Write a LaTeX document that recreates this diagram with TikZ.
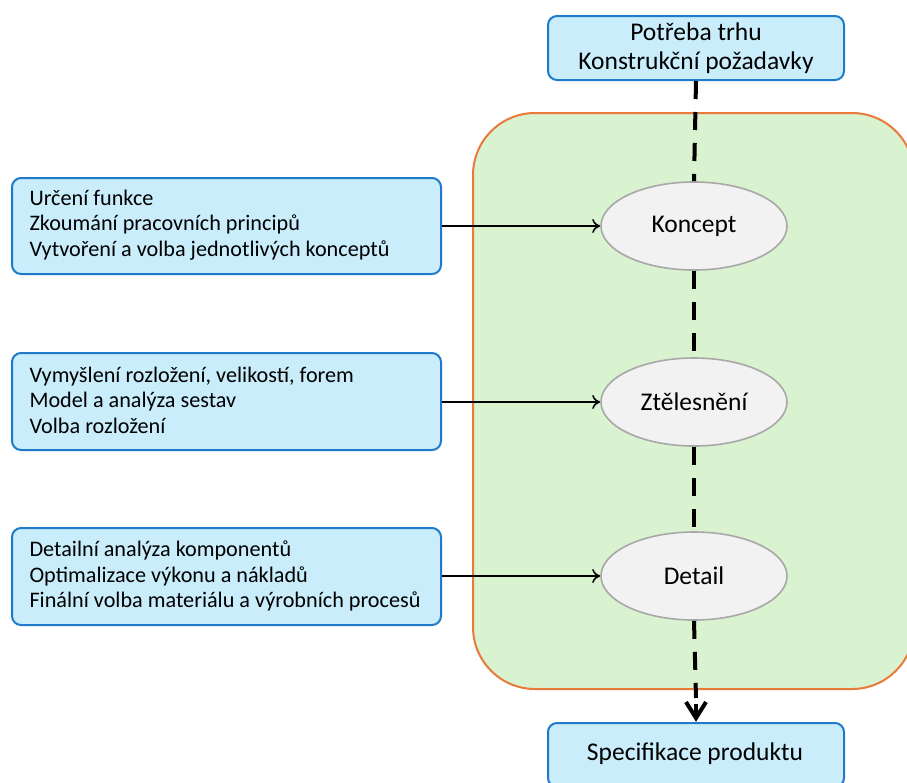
\documentclass[tikz,border=0pt]{standalone}
\usepackage{fontspec}
\setmainfont{Carlito}
\usetikzlibrary{shapes.geometric,arrows.meta}
\definecolor{boxfill}{HTML}{C9EDFB}
\definecolor{boxdraw}{HTML}{1F7BC9}
\definecolor{panelfill}{HTML}{D9F2D0}
\definecolor{paneldraw}{HTML}{E97A3A}
\definecolor{ellfill}{HTML}{F2F2F2}
\definecolor{elldraw}{HTML}{A8A8A8}
\tikzset{
  bluebox/.style={draw=boxdraw, fill=boxfill, line width=2pt, rounded corners=9pt, inner sep=0pt},
  ellnode/.style={ellipse, draw=elldraw, fill=ellfill, line width=1.6pt, minimum width=186pt, minimum height=88pt, inner sep=0pt, font=\fontsize{25.5}{30}\selectfont},
  bigtxt/.style={font=\fontsize{25.5}{28.5}\selectfont},
  txt/.style={font=\fontsize{22.2}{25.5}\selectfont},
  feed/.style={-{To[length=8pt,width=14pt,line width=1.5pt]}, line width=2pt},
  flow/.style={line width=4pt, dash pattern=on 18pt off 13pt}
}
\begin{document}
\begin{tikzpicture}[x=1pt,y=-1pt]
\useasboundingbox (0,0) rectangle (907,782);
\begin{scope}
\clip (0,0) rectangle (907,782);
% panel
\draw[draw=paneldraw, fill=panelfill, line width=2pt, rounded corners=62pt] (473,113) rectangle (914,689);
% top box
\node[bluebox, minimum width=296pt, minimum height=64pt, anchor=north west] (need) at (547,15) {};
\node[bigtxt, align=center] (needt) at (need.center) {Potřeba trhu\\Konstrukční požadavky};
% bottom box
\node[bluebox, minimum width=296pt, minimum height=64pt, anchor=north west] (spec) at (547,722) {};
\node[bigtxt] (spect) at (695,754) {Specifikace produktu};
% ellipses
\node[ellnode] (k) at (694,226) {Koncept};
\node[ellnode] (z) at (694,402) {Ztělesnění};
\node[ellnode] (d) at (694,576) {Detail};
% left boxes
\node[bluebox, minimum width=429pt, minimum height=96pt, anchor=north west] (b1) at (11,177) {};
\node[bluebox, minimum width=429pt, minimum height=97pt, anchor=north west] (b2) at (11,352) {};
\node[bluebox, minimum width=429pt, minimum height=97pt, anchor=north west] (b3) at (11,527) {};
\node[txt, align=left, anchor=west] (t1) at (26,225) {Určení funkce\\Zkoumání pracovních principů\\Vytvoření a volba jednotlivých konceptů};
\node[txt, align=left, anchor=west] (t2) at (26,400) {Vymyšlení rozložení, velikostí, forem\\Model a analýza sestav\\Volba rozložení};
\node[txt, align=left, anchor=west] (t3) at (26,576) {Detailní analýza komponentů\\Optimalizace výkonu a nákladů\\Finální volba materiálu a výrobních procesů};
% flow line
\draw[flow] (need.south) -- (k.north);
\draw[flow] (k.south) -- (z.north);
\draw[flow] (z.south) -- (d.north);
\coordinate (dashend) at ([yshift=24pt]spec.north);
\draw[flow] (d.south) -- (dashend);
\coordinate (tipl) at ([xshift=-10pt,yshift=20pt]spec.north);
\coordinate (tipr) at ([xshift=10pt,yshift=20pt]spec.north);
\coordinate (tip) at ([yshift=4pt]spec.north);
\coordinate (stem) at ([yshift=18pt]spec.north);
\draw[line width=4pt, line join=miter] (tipl) -- (tip) -- (tipr);
\draw[line width=4pt] (stem) -- (tip);
% feed arrows
\draw[feed] (b1.east |- k.west) -- (k.west);
\draw[feed] (b2.east |- z.west) -- (z.west);
\draw[feed] (b3.east |- d.west) -- (d.west);
\end{scope}
\end{tikzpicture}
\end{document}
